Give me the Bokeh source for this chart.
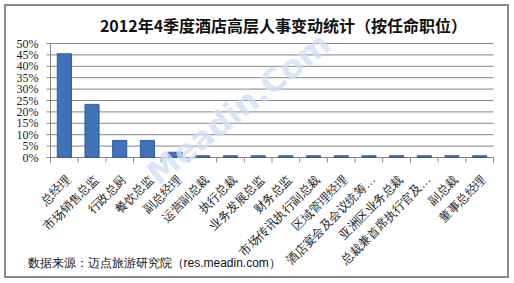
from bokeh.plotting import figure
from bokeh.layouts import column
from bokeh.models import Range1d, Label, ColumnDataSource
from bokeh.embed import file_html
from bokeh.resources import INLINE
import math

title_text = "2012年4季度酒店高层人事变动统计（按任命职位）"
source_text = "数据来源：迈点旅游研究院（res.meadin.com）"
watermark = "Meadin.Com"

categories = ["总经理", "市场销售总监", "行政总厨", "餐饮总监", "副总经理", "运营副总裁",
              "执行总裁", "业务发展总监", "财务总监", "市场传讯执行副总裁", "区域管理经理",
              "酒店宴会及会议统筹…", "亚洲区业务总裁", "总裁兼首席执行官及…", "副总裁", "董事总经理"]
values = [0.455, 0.233, 0.075, 0.075, 0.023, 0.0075, 0.0075, 0.0075, 0.0075, 0.0075,
          0.0075, 0.0075, 0.0075, 0.0075, 0.0075, 0.0075]
y_ticks = [0, 0.05, 0.10, 0.15, 0.20, 0.25, 0.30, 0.35, 0.40, 0.45, 0.50]
y_tick_labels = ["0%", "5%", "10%", "15%", "20%", "25%", "30%", "35%", "40%", "45%", "50%"]

# ---- layout (pixels inside the bordered box) ----
W, H = 501, 270
PLOT_LEFT, PLOT_RIGHT = 44, 487     # category axis extent
PLOT_TOP, PLOT_ZERO = 37, 151       # 50% line and 0% line
n = len(categories)
y_max = y_ticks[-1]
ppx = (PLOT_RIGHT - PLOT_LEFT) / n
ppy = (PLOT_ZERO - PLOT_TOP) / y_max

xs = [i + 0.5 for i in range(n)]
label_pos = [x + 0.15 for x in xs]
bounds = list(range(n + 1))
xtick_len = 5 / ppy
ytick_len = 4 / ppx

bars = ColumnDataSource(dict(x=xs, top=values))
xlab = ColumnDataSource(dict(x=label_pos, y=[0] * n, text=categories))
xtk = ColumnDataSource(dict(x=bounds, y0=[0] * (n + 1), y1=[-xtick_len] * (n + 1)))
grid = ColumnDataSource(dict(y=y_ticks, x0=[0] * len(y_ticks), x1=[n] * len(y_ticks),
                             xt=[-ytick_len] * len(y_ticks), xl=[0] * len(y_ticks),
                             text=y_tick_labels))

p = figure(width=W, height=H, output_backend="svg", toolbar_location=None,
           x_range=Range1d(-PLOT_LEFT / ppx, n + (W - PLOT_RIGHT) / ppx),
           y_range=Range1d(-(H - PLOT_ZERO) / ppy, y_max + PLOT_TOP / ppy),
           min_border=0)
p.outline_line_color = None
p.background_fill_color = "white"
p.border_fill_color = "white"
p.xaxis.visible = False
p.yaxis.visible = False
p.xgrid.grid_line_color = None
p.ygrid.grid_line_color = None

# horizontal gridlines (0% line doubles as the category axis)
p.segment(x0="x0", y0="y", x1="x1", y1="y", source=grid, line_color="#868686", line_width=1)
# value axis line and its ticks
p.segment(x0=0, y0=0, x1=0, y1=y_max, line_color="#868686", line_width=1)
p.segment(x0="xt", y0="y", x1="xl", y1="y", source=grid, line_color="#868686", line_width=1)
# value tick labels
p.text(x="xl", y="y", text="text", source=grid, x_offset=-12, text_align="right",
       text_baseline="middle", text_font="DejaVu Sans", text_font_size="12px",
       text_color="#222222")

p.vbar(x="x", top="top", width=0.51, source=bars, fill_color="#3f72b9", line_color="#2f5c9c")

# category boundary ticks below the 0% line
p.segment(x0="x", y0="y0", x1="x", y1="y1", source=xtk, line_color="#868686", line_width=1)
# rotated category labels
p.text(x="x", y="y", text="text", source=xlab, angle=math.pi / 4, y_offset=20,
       text_align="right", text_baseline="middle", text_font="Noto Sans CJK SC",
       text_font_size="12px", text_color="#222222")

p.add_layout(Label(x=277, y=18, x_units="canvas", y_units="canvas", text=title_text,
                   text_align="center", text_baseline="middle", text_font="Noto Sans CJK SC",
                   text_font_size="16px", text_font_style="bold", text_color="#111111"))
p.add_layout(Label(x=21, y=256, x_units="canvas", y_units="canvas", text=source_text,
                   text_align="left", text_baseline="middle", text_font="Liberation Sans",
                   text_font_size="12px", text_color="#111111"))
p.add_layout(Label(x=232, y=102, x_units="canvas", y_units="canvas", text=watermark,
                   angle=0.67, text_align="center", text_baseline="middle",
                   text_font="DejaVu Sans", text_font_size="32px", text_font_style="bold",
                   text_color="#cfe0f6", text_alpha=0.8))

layout = column(p, styles={"border": "2px solid #8a8a8a", "margin-left": "4px", "margin-top": "4px"})

open("out.html", "w").write(file_html(layout, INLINE))
